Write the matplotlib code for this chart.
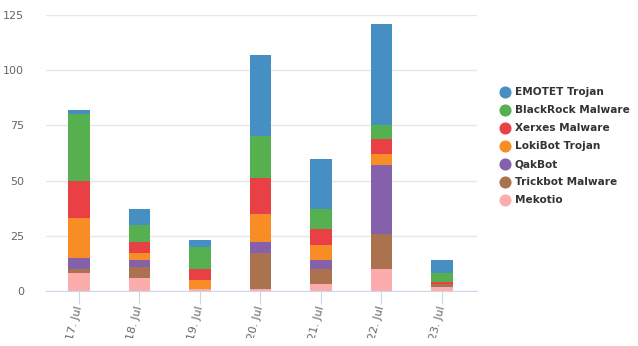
import matplotlib.pyplot as plt
from matplotlib.lines import Line2D
from matplotlib.transforms import Bbox, TransformedBbox
import numpy as np

days = ["17. Jul", "18. Jul", "19. Jul", "20. Jul", "21. Jul", "22. Jul", "23. Jul"]

# stacked from bottom to top
mekotio = [8, 6, 1, 1, 3, 10, 2]
trickbot = [2, 5, 0, 16, 7, 16, 1]
qakbot = [5, 3, 0, 5, 4, 31, 0]
lokibot = [18, 3, 4, 13, 7, 5, 0]
xerxes = [17, 5, 5, 16, 7, 7, 1]
blackrock = [30, 8, 10, 19, 9, 6, 4]
emotet = [2, 7, 3, 37, 23, 46, 6]

series = [
    ("Mekotio", mekotio, "#fcacad"),
    ("Trickbot Malware", trickbot, "#ab7250"),
    ("QakBot", qakbot, "#8560ab"),
    ("LokiBot Trojan", lokibot, "#f98d25"),
    ("Xerxes Malware", xerxes, "#e84044"),
    ("BlackRock Malware", blackrock, "#56b04f"),
    ("EMOTET Trojan", emotet, "#458fc3"),
]


def main():
    fig = plt.figure(figsize=(6.38, 3.46), dpi=100)
    ax = fig.add_axes([46 / 638, 1 - 291 / 346, 431 / 638, 276 / 346])

    x = np.arange(len(days))
    bottom = np.zeros(len(days))
    for name, vals, color in series:
        ax.bar(x, vals, width=0.36, bottom=bottom, color=color, linewidth=0, zorder=2)
        bottom += np.array(vals)

    ax.set_xlim(-0.545, 6.58)
    ax.set_ylim(0, 125)
    ax.set_yticks([0, 25, 50, 75, 100, 125])
    ax.yaxis.grid(True, color="#e6e6e6", linewidth=1, zorder=0)
    ax.set_axisbelow(True)

    for side in ["left", "right", "top"]:
        ax.spines[side].set_visible(False)
    ax.spines["bottom"].set_color("#ccd6eb")
    ax.spines["bottom"].set_zorder(3)

    ax.tick_params(axis="y", length=0, pad=16, labelsize=8, labelcolor="#666666")
    ax.tick_params(axis="x", length=9, color="#ccd6eb", labelsize=8, labelcolor="#666666", pad=2)
    ax.set_xticks(x)
    ax.set_xticklabels(days, rotation=75, ha="right", va="center", rotation_mode="anchor")

    # labels are cut off near the bottom edge like in the original
    clip = TransformedBbox(Bbox([[0, 8 / 346], [1, 1]]), fig.transFigure)
    for lbl in ax.get_xticklabels():
        lbl.set_clip_box(clip)
        lbl.set_clip_on(True)

    handles = [Line2D([], [], marker="o", linestyle="", markersize=7.7,
                      markerfacecolor=c, markeredgecolor=c) for _, _, c in series[::-1]]
    labels = [n for n, _, _ in series[::-1]]
    fig.legend(handles, labels, loc="center left", bbox_to_anchor=(0.766, 0.577),
               frameon=False, prop={"weight": "bold", "size": 7.6},
               labelcolor="#333333", handletextpad=0.35, labelspacing=0.76,
               handlelength=1.2)

    fig.savefig("out.png", dpi=100)


if __name__ == "__main__":
    main()
